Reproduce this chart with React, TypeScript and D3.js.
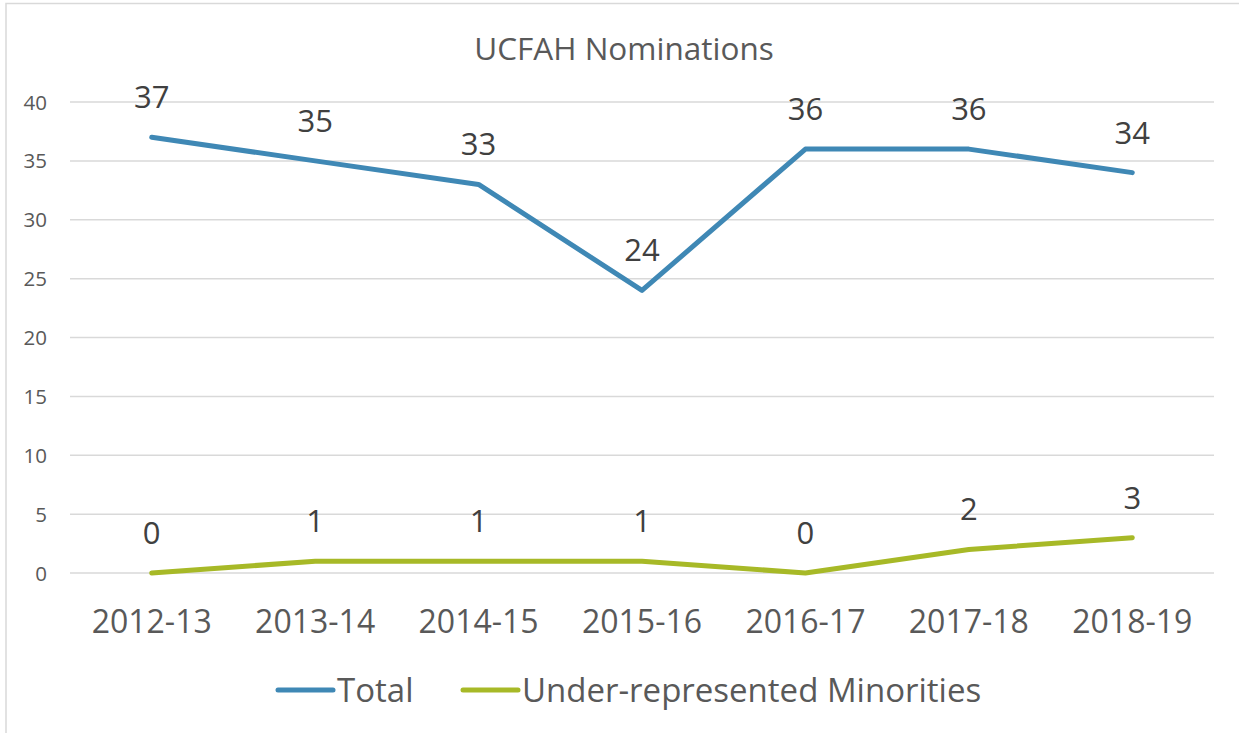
import React from "react";
import * as d3 from "d3";

const categories = ["2012-13", "2013-14", "2014-15", "2015-16", "2016-17", "2017-18", "2018-19"];
const totalValues = [37, 35, 33, 24, 36, 36, 34];
const urmValues = [0, 1, 1, 1, 0, 2, 3];
const yTicks = [0, 5, 10, 15, 20, 25, 30, 35, 40];
const seriesNames = ["Total", "Under-represented Minorities"];
const seriesColors = ["#3F88B5", "#A7B927"];

const W = 1239;
const H = 733;
const FONT = "'Open Sans', sans-serif";

export default function App() {
  const x = d3.scaleBand<string>().domain(categories).range([70, 1214]);
  const y = d3.scaleLinear().domain([0, 40]).range([573, 102]);
  const cx = (c: string) => (x(c) ?? 0) + x.bandwidth() / 2;
  const line = d3
    .line<number>()
    .x((_, i) => cx(categories[i]))
    .y((d) => y(d));
  const series = [totalValues, urmValues];

  return (
    <svg
      width={W}
      height={H}
      style={{ position: "absolute", left: 0, top: 0, background: "#fff" }}
      fontFamily={FONT}
    >
      <rect x={6} y={3.5} width={W + 10} height={H + 10} fill="#fff" stroke="#D9D9D9" strokeWidth={1.5} />
      <text x={624} y={60} textAnchor="middle" fontSize={31.5} fill="#595959">
        UCFAH Nominations
      </text>
      {yTicks.map((t) => (
        <g key={t}>
          <line x1={70} x2={1214} y1={y(t)} y2={y(t)} stroke="#D9D9D9" strokeWidth={1.5} />
          <text x={47} y={y(t) + 7.5} textAnchor="end" fontSize={20.5} fill="#595959">
            {t}
          </text>
        </g>
      ))}
      {categories.map((c) => (
        <text key={c} x={cx(c)} y={633} textAnchor="middle" fontSize={32} fill="#595959">
          {c}
        </text>
      ))}
      {series.map((s, si) => (
        <g key={si}>
          <path d={line(s) ?? ""} fill="none" stroke={seriesColors[si]} strokeWidth={5} strokeLinecap="round" strokeLinejoin="round" />
          {s.map((v, i) => (
            <text key={i} x={cx(categories[i])} y={y(v) - 29} textAnchor="middle" fontSize={31} fill="#404040">
              {v}
            </text>
          ))}
        </g>
      ))}
      {/* legend */}
      {[278, 463].map((lx, i) => (
        <g key={i}>
          <line x1={lx} x2={lx + 55} y1={690} y2={690} stroke={seriesColors[i]} strokeWidth={5} strokeLinecap="round" />
          <text x={lx + 59} y={702} fontSize={33} fill="#595959">
            {seriesNames[i]}
          </text>
        </g>
      ))}
    </svg>
  );
}
